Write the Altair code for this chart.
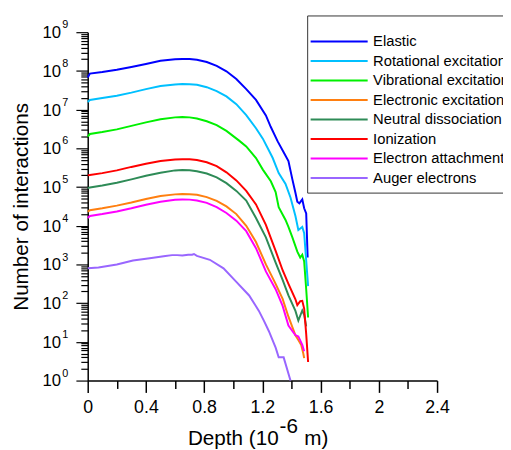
import altair as alt
import pandas as pd

FONT = "Liberation Sans"

series_names = [
    "Elastic",
    "Rotational excitation",
    "Vibrational excitation",
    "Electronic excitation",
    "Neutral dissociation",
    "Ionization",
    "Electron attachment",
    "Auger electrons",
]
series_colors = ["#0000ff", "#00c0ff", "#00f000", "#ff7f10", "#2e8b57", "#ff0000", "#ff00ff", "#9966ff"]

elastic_depth = [0, 0.015, 0.1, 0.2, 0.3, 0.4, 0.5, 0.6, 0.65, 0.7, 0.75, 0.818, 0.886, 0.953, 1.021,
                 1.089, 1.156, 1.224, 1.258, 1.305, 1.346, 1.379, 1.406, 1.427, 1.44, 1.454, 1.474,
                 1.487, 1.501, 1.511]
elastic_count = [6.76e7, 8.51e7, 9.33e7, 1.07e8, 1.26e8, 1.51e8, 1.82e8, 2.00e8, 2.04e8, 2.02e8, 1.95e8,
                 1.70e8, 1.35e8, 9.77e7, 6.17e7, 3.39e7, 1.78e7, 7.08e6, 3.55e6, 1.51e6, 7.94e5, 4.68e5,
                 1.58e5, 7.08e4, 4.17e4, 3.80e4, 4.79e4, 2.82e4, 2.09e4, 1.51e3]

rotational_depth = [0, 0.015, 0.1, 0.2, 0.3, 0.4, 0.5, 0.6, 0.65, 0.7, 0.75, 0.818, 0.886, 0.953, 1.021,
                    1.089, 1.156, 1.203, 1.244, 1.271, 1.312, 1.359, 1.393, 1.427, 1.447, 1.474, 1.487,
                    1.501, 1.514]
rotational_count = [1.58e7, 1.78e7, 2.00e7, 2.29e7, 2.75e7, 3.39e7, 4.07e7, 4.47e7, 4.57e7, 4.52e7, 4.37e7,
                    3.80e7, 3.02e7, 2.19e7, 1.38e7, 7.24e6, 3.31e6, 1.78e6, 8.91e5, 5.62e5, 2.29e5, 1.20e5,
                    5.37e4, 1.78e4, 7.76e3, 9.33e3, 6.46e3, 1.26e3, 275]

vibrational_depth = [0, 0.015, 0.1, 0.2, 0.3, 0.4, 0.5, 0.6, 0.65, 0.7, 0.75, 0.818, 0.886, 0.953, 1.04,
                     1.089, 1.156, 1.203, 1.258, 1.291, 1.312, 1.359, 1.379, 1.406, 1.44, 1.46, 1.474,
                     1.487, 1.501, 1.514]
vibrational_count = [2.00e6, 2.34e6, 2.63e6, 3.09e6, 3.80e6, 4.68e6, 5.62e6, 6.31e6, 6.46e6, 6.31e6, 5.89e6,
                     5.01e6, 3.98e6, 2.82e6, 1.58e6, 1.12e6, 5.62e5, 2.82e5, 1.41e5, 7.41e4, 3.02e4, 1.41e4,
                     9.33e3, 5.01e3, 2.14e3, 1.51e3, 1.78e3, 1.20e3, 229, 42.7]

electronic_depth = [0, 0.015, 0.1, 0.2, 0.3, 0.4, 0.5, 0.6, 0.65, 0.7, 0.75, 0.818, 0.886, 0.953, 1.021,
                    1.089, 1.156, 1.224, 1.291, 1.339, 1.379, 1.427, 1.447, 1.467, 1.481, 1.487]
electronic_count = [2.29e4, 2.51e4, 2.82e4, 3.31e4, 3.98e4, 4.90e4, 5.89e4, 6.46e4, 6.61e4, 6.53e4, 6.31e4,
                    5.50e4, 4.37e4, 3.16e4, 2.00e4, 1.00e4, 3.80e3, 1.00e3, 316, 129, 44.7, 14.8, 11.2,
                    8.32, 5.01, 3.80]

neutral_depth = [0, 0.015, 0.1, 0.2, 0.3, 0.4, 0.5, 0.6, 0.65, 0.7, 0.75, 0.818, 0.886, 0.953, 1.021,
                 1.089, 1.156, 1.224, 1.291, 1.339, 1.379, 1.427, 1.447, 1.474, 1.487, 1.501]
neutral_count = [9.33e4, 9.77e4, 1.10e5, 1.29e5, 1.58e5, 1.95e5, 2.34e5, 2.69e5, 2.75e5, 2.72e5, 2.57e5,
                 2.24e5, 1.78e5, 1.26e5, 7.94e4, 4.47e4, 1.58e4, 5.01e3, 1.12e3, 398, 158, 63.1, 35.5,
                 64.6, 50.1, 25.1]

ionization_depth = [0, 0.015, 0.1, 0.2, 0.3, 0.4, 0.5, 0.6, 0.65, 0.7, 0.75, 0.818, 0.886, 0.953, 1.021,
                    1.089, 1.156, 1.224, 1.291, 1.339, 1.379, 1.427, 1.44, 1.46, 1.474, 1.487, 1.501, 1.514]
ionization_count = [2.00e5, 2.04e5, 2.29e5, 2.69e5, 3.31e5, 3.98e5, 4.68e5, 5.13e5, 5.25e5, 5.19e5, 5.01e5,
                    4.37e5, 3.47e5, 2.40e5, 1.48e5, 7.94e4, 3.55e4, 1.05e4, 2.24e3, 708, 316, 126, 89.1,
                    112, 115, 72.4, 15.8, 3.02]

attachment_depth = [0, 0.015, 0.1, 0.2, 0.3, 0.4, 0.5, 0.6, 0.65, 0.7, 0.75, 0.818, 0.886, 0.953, 1.021,
                    1.089, 1.156, 1.224, 1.291, 1.339, 1.379, 1.427, 1.447, 1.474, 1.487]
attachment_count = [1.58e4, 1.78e4, 2.00e4, 2.34e4, 2.82e4, 3.47e4, 4.17e4, 4.68e4, 4.79e4, 4.73e4, 4.47e4,
                    3.89e4, 3.02e4, 2.14e4, 1.35e4, 7.24e3, 2.63e3, 661, 229, 85.1, 26.3, 14.8, 13.8,
                    8.32, 5.75]

auger_depth = [0, 0.074, 0.2, 0.311, 0.426, 0.534, 0.58, 0.615, 0.65, 0.69, 0.717, 0.73, 0.75, 0.839,
               0.933, 1.021, 1.109, 1.156, 1.176, 1.21, 1.244, 1.291, 1.312, 1.346, 1.393]
auger_count = [794, 832, 1000, 1260, 1450, 1660, 1740, 1740, 1700, 1780, 1780, 1860, 1660, 1320, 794,
               355, 158, 83.2, 63.1, 35.5, 19.1, 7.08, 3.98, 3.98, 1.0]

depth_lists = [elastic_depth, rotational_depth, vibrational_depth, electronic_depth,
               neutral_depth, ionization_depth, attachment_depth, auger_depth]
count_lists = [elastic_count, rotational_count, vibrational_count, electronic_count,
               neutral_count, ionization_count, attachment_count, auger_count]

x_tick_values = [0, 0.2, 0.4, 0.6, 0.8, 1.0, 1.2, 1.4, 1.6, 1.8, 2.0, 2.2, 2.4]
decade_exponents = [0, 1, 2, 3, 4, 5, 6, 7, 8, 9]
x_title_parts = ["Depth (10", "-6", "m)"]
y_title = "Number of interactions"

rows = []
for name, ds, vs in zip(series_names, depth_lists, count_lists):
    for d, v in zip(ds, vs):
        rows.append({"series": name, "depth": d, "count": v})
df = pd.DataFrame(rows)

y_major = [10 ** k for k in decade_exponents]
y_minor = [m * 10 ** k for k in decade_exponents[:-1] for m in range(2, 10)]
y_tick_values = sorted(y_major + y_minor)

decade_df = pd.DataFrame({
    "v": y_major,
    "base": ["10"] * len(decade_exponents),
    "exp": [str(k) for k in decade_exponents],
})
title_df = pd.DataFrame({"main": [x_title_parts[0]], "sup": [x_title_parts[1]], "tail": [x_title_parts[2]]})

y_scale = alt.Scale(type="log", domain=[1, 1e9], nice=False)
x_scale = alt.Scale(domain=[0, 2.4], nice=False, zero=False)

x_axis = alt.Axis(
    values=x_tick_values,
    labelExpr="round(datum.value*10) % 4 == 0 ? format(datum.value, '~g') : ''",
    tickSize={"condition": {"test": "round(datum.value*10) % 4 == 0", "value": 12}, "value": 8},
    labelFontSize=18, labelFont=FONT, labelColor="black", labelPadding=6,
    labelFlush=False, labelOverlap=False,
    domainColor="black", domainWidth=1.5, tickColor="black", tickWidth=1.5,
    grid=False, title=None,
)
y_axis = alt.Axis(
    values=y_tick_values,
    labels=False,
    tickSize={"condition": {"test": "abs(log(datum.value)/LN10 - round(log(datum.value)/LN10)) < 0.001",
                            "value": 12}, "value": 7},
    domainColor="black", domainWidth=1.5, tickColor="black", tickWidth=1.2,
    grid=False,
    title=y_title, titleFont=FONT, titleFontSize=21, titleFontWeight="normal", titleColor="black",
    titleAngle=270, titleX=-61, titleY=177, titleAlign="center", titleBaseline="alphabetic",
)

legend = alt.Legend(
    orient="none", legendX=223, legendY=-17,
    title=" ", titleFontSize=10, titlePadding=2,
    labelFont=FONT, labelFontSize=15, labelColor="black", labelLimit=400,
    symbolType="M-4,0H4", symbolSize=210, symbolStrokeWidth=2,
    symbolOffset=18, labelOffset=26, rowPadding=2.8,
    strokeColor="#333333", fillColor="white", padding=6,
)

lines = alt.Chart(df).mark_line(strokeWidth=2).encode(
    x=alt.X("depth:Q", scale=x_scale, axis=x_axis),
    y=alt.Y("count:Q", scale=y_scale, axis=y_axis),
    color=alt.Color("series:N", scale=alt.Scale(domain=series_names, range=series_colors),
                    sort=series_names, legend=legend),
)

ylab = alt.Chart(decade_df).mark_text(align="right", baseline="middle", fontSize=17, font=FONT,
                                      color="black", dy=1).encode(
    x=alt.value(-27), y=alt.Y("v:Q", scale=y_scale, axis=y_axis), text="base:N")
yexp = alt.Chart(decade_df).mark_text(align="left", baseline="middle", fontSize=11, font=FONT,
                                      color="black", dy=-7).encode(
    x=alt.value(-26), y=alt.Y("v:Q", scale=y_scale, axis=y_axis), text="exp:N")

xt_main = alt.Chart(title_df).mark_text(align="right", baseline="alphabetic", fontSize=21, font=FONT,
                                        color="black").encode(
    x=alt.value(194), y=alt.value(419), text="main:N")
xt_sup = alt.Chart(title_df).mark_text(align="left", baseline="alphabetic", fontSize=21, font=FONT,
                                       color="black").encode(
    x=alt.value(195), y=alt.value(407), text="sup:N")
xt_tail = alt.Chart(title_df).mark_text(align="left", baseline="alphabetic", fontSize=21, font=FONT,
                                        color="black").encode(
    x=alt.value(220), y=alt.value(419), text="tail:N")

chart = alt.layer(lines, ylab, yexp, xt_main, xt_sup, xt_tail).properties(
    width=355, height=354,
    autosize=alt.AutoSizeParams(type="none"),
    padding={"left": 81, "top": 21, "right": 67, "bottom": 70},
).configure_view(stroke=None).configure_axis(grid=False)

chart.save("out.html", embed_options={"renderer": "svg", "actions": False})
